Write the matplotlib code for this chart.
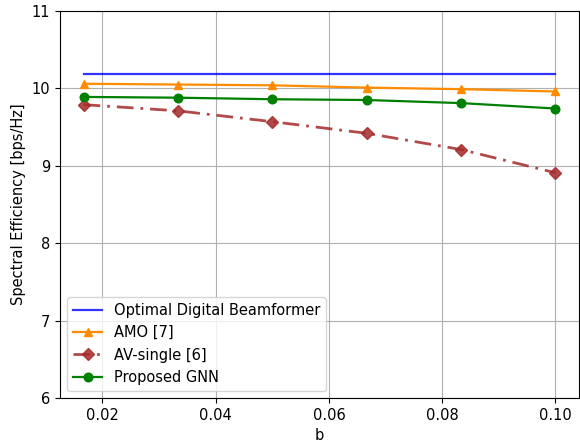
import matplotlib
matplotlib.use("Agg")
import matplotlib.pyplot as plt

plt.rcParams['font.size'] = 10.5

b_vals = [1/60, 2/60, 3/60, 4/60, 5/60, 6/60]
optimal = [10.19, 10.19, 10.19, 10.19, 10.19, 10.19]
amo = [10.06, 10.05, 10.04, 10.01, 9.99, 9.96]
av_single = [9.79, 9.71, 9.57, 9.42, 9.21, 8.91]
gnn = [9.89, 9.88, 9.86, 9.85, 9.81, 9.74]

fig = plt.figure(figsize=(5.8, 4.42), dpi=100)
ax = fig.add_axes([60/580, 1-398/442, 519/580, 387/442])
ax.plot(b_vals, optimal, color='blue', alpha=0.8, linewidth=1.6, label='Optimal Digital Beamformer')
ax.plot(b_vals, amo, color='darkorange', marker='^', markersize=6.2, linewidth=1.6, label='AMO [7]')
ax.plot(b_vals, av_single, color='brown', alpha=0.85, marker='D', markersize=6, linestyle=(0, (6, 2.5, 1, 2.5)), linewidth=2, label='AV-single [6]')
ax.plot(b_vals, gnn, color='green', marker='o', markersize=6.2, linewidth=1.6, label='Proposed GNN')
ax.set_ylim(6, 11)
ax.set_xlabel('b')
ax.set_ylabel('Spectral Efficiency [bps/Hz]')
ax.grid(True)
ax.legend(loc='lower left')
fig.savefig('out.png', dpi=100)
